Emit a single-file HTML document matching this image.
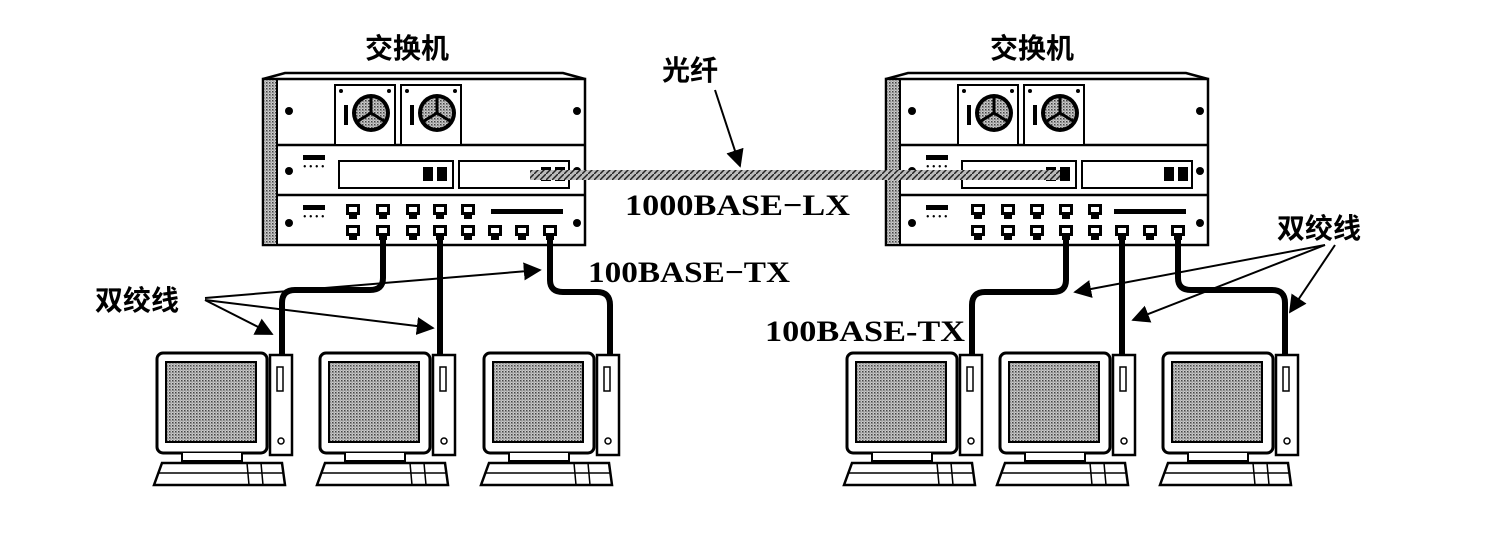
<!DOCTYPE html>
<html><head><meta charset="utf-8"><style>
html,body{margin:0;padding:0;background:#fff;}
svg{display:block}
text{font-family:"Liberation Serif","Noto Serif CJK SC",serif;fill:#000}
.cn{font-family:"Liberation Sans","Noto Sans CJK SC",sans-serif;font-weight:bold}
</style></head><body>
<svg width="1496" height="538" viewBox="0 0 1496 538" xmlns="http://www.w3.org/2000/svg">
<defs>
<pattern id="dots" width="3" height="3" patternUnits="userSpaceOnUse">
<rect width="3" height="3" fill="#ccc"/><rect x="0" y="0" width="1.5" height="1.5" fill="#444"/><rect x="1.5" y="1.5" width="1" height="1" fill="#666"/>
</pattern>
<pattern id="hatch" width="6" height="6" patternUnits="userSpaceOnUse">
<rect width="6" height="6" fill="#bbb"/><path d="M0 6L6 0" stroke="#222" stroke-width="1.5"/>
</pattern>
<marker id="ar" viewBox="0 0 10 10" refX="9" refY="5" markerWidth="9" markerHeight="9" orient="auto-start-reverse">
<path d="M0 0L10 5L0 10z" fill="#000"/></marker>
<g id="port"><rect x="-7" y="0" width="14" height="11" fill="#000"/><rect x="-4" y="3" width="8" height="5" fill="#fff"/><rect x="-4" y="11" width="8" height="4" fill="#000"/></g>
<g id="fan"><rect x="0" y="0" width="60" height="60" fill="#fff" stroke="#000" stroke-width="2"/>
<circle cx="36" cy="28" r="19" fill="#000"/><circle cx="36" cy="28" r="15" fill="url(#dots)"/><path d="M36 28L36 13M36 28L49 36M36 28L23 36" stroke="#000" stroke-width="3"/>
<rect x="9" y="20" width="4" height="20" fill="#000"/><circle cx="6" cy="6" r="2"/><circle cx="54" cy="6" r="2"/></g>
<g id="sw">
<path d="M0 6 L22 0 L300 0 L322 6" fill="none" stroke="#000" stroke-width="2.5"/>
<rect x="0" y="6" width="322" height="166" fill="#fff" stroke="#000" stroke-width="2.5"/>
<rect x="1" y="7" width="13" height="164" fill="url(#dots)"/>
<line x1="14" y1="6" x2="14" y2="172" stroke="#000" stroke-width="2"/>
<line x1="14" y1="72" x2="322" y2="72" stroke="#000" stroke-width="2.5"/>
<line x1="14" y1="122" x2="322" y2="122" stroke="#000" stroke-width="2.5"/>
<use href="#fan" x="72" y="12"/><use href="#fan" x="138" y="12"/>
<circle cx="26" cy="38" r="4"/><circle cx="314" cy="38" r="4"/>
<circle cx="26" cy="98" r="4"/><circle cx="314" cy="98" r="4"/>
<circle cx="26" cy="150" r="4"/><circle cx="314" cy="150" r="4"/>
<rect x="40" y="82" width="22" height="5" fill="#000"/><text x="40" y="97" font-size="10">• • • •</text>
<rect x="40" y="132" width="22" height="5" fill="#000"/><text x="40" y="147" font-size="10">• • • •</text>
<rect x="76" y="88" width="114" height="27" fill="#fff" stroke="#000" stroke-width="2"/>
<rect x="196" y="88" width="110" height="27" fill="#fff" stroke="#000" stroke-width="2"/>
<rect x="160" y="94" width="10" height="14" fill="#000"/><rect x="174" y="94" width="10" height="14" fill="#000"/>
<rect x="278" y="94" width="10" height="14" fill="#000"/><rect x="292" y="94" width="10" height="14" fill="#000"/>
<rect x="228" y="136" width="72" height="5" fill="#000"/>
</g>
<g id="pc">
<rect x="0" y="0" width="110" height="100" rx="6" fill="#fff" stroke="#000" stroke-width="3"/>
<rect x="9" y="9" width="90" height="80" fill="url(#dots)" stroke="#000" stroke-width="2"/>
<path d="M25 100 L25 108 L85 108 L85 100" fill="#fff" stroke="#000" stroke-width="2"/>
<path d="M-3 132 L5 110 L125 110 L128 132 Z" fill="#fff" stroke="#000" stroke-width="2.5"/>
<line x1="2" y1="120" x2="126" y2="120" stroke="#000" stroke-width="1.5"/>
<line x1="90" y1="110" x2="92" y2="132" stroke="#000" stroke-width="1.5"/>
<line x1="104" y1="110" x2="106" y2="132" stroke="#000" stroke-width="1.5"/>
<rect x="113" y="2" width="22" height="100" fill="#fff" stroke="#000" stroke-width="2.5"/>
<rect x="120" y="14" width="6" height="24" fill="#fff" stroke="#000" stroke-width="1.5"/>
<circle cx="124" cy="88" r="3" fill="none" stroke="#000" stroke-width="1.5"/>
</g>
</defs>

<use href="#sw" x="263" y="73"/>
<use href="#sw" x="886" y="73"/>
<rect x="530" y="170" width="530" height="10" fill="url(#hatch)"/>

<g>
<use href="#port" x="353" y="204"/><use href="#port" x="383" y="204"/><use href="#port" x="413" y="204"/><use href="#port" x="440" y="204"/><use href="#port" x="468" y="204"/>
<use href="#port" x="353" y="225"/><use href="#port" x="383" y="225"/><use href="#port" x="413" y="225"/><use href="#port" x="440" y="225"/><use href="#port" x="468" y="225"/><use href="#port" x="495" y="225"/><use href="#port" x="522" y="225"/><use href="#port" x="550" y="225"/>
<use href="#port" x="978" y="204"/><use href="#port" x="1008" y="204"/><use href="#port" x="1037" y="204"/><use href="#port" x="1066" y="204"/><use href="#port" x="1095" y="204"/>
<use href="#port" x="978" y="225"/><use href="#port" x="1008" y="225"/><use href="#port" x="1037" y="225"/><use href="#port" x="1066" y="225"/><use href="#port" x="1095" y="225"/><use href="#port" x="1122" y="225"/><use href="#port" x="1150" y="225"/><use href="#port" x="1178" y="225"/>
</g>

<g fill="none" stroke="#000" stroke-width="6">
<path d="M383 238 V278 Q383 290 370 290 H295 Q282 290 282 303 V355"/>
<path d="M440 238 V355"/>
<path d="M550 238 V280 Q550 292 563 292 H597 Q610 292 610 305 V355"/>
<path d="M1066 238 V280 Q1066 292 1053 292 H985 Q972 292 972 305 V355"/>
<path d="M1122 238 V355"/>
<path d="M1178 238 V278 Q1178 290 1191 290 H1272 Q1285 290 1285 303 V355"/>
</g>

<use href="#pc" x="157" y="353"/>
<use href="#pc" x="320" y="353"/>
<use href="#pc" x="484" y="353"/>
<use href="#pc" x="847" y="353"/>
<use href="#pc" x="1000" y="353"/>
<use href="#pc" x="1163" y="353"/>

<g stroke="#000" stroke-width="2" fill="none" marker-end="url(#ar)">
<line x1="715" y1="90" x2="740" y2="166"/>
<line x1="205" y1="300" x2="272" y2="334"/>
<line x1="205" y1="300" x2="433" y2="328"/>
<line x1="205" y1="298" x2="540" y2="270"/>
<line x1="1325" y1="245" x2="1075" y2="292"/>
<line x1="1325" y1="245" x2="1133" y2="320"/>
<line x1="1335" y1="245" x2="1290" y2="312"/>
</g>

<text x="365" y="58" class="cn" font-size="28">交换机</text>
<text x="990" y="58" class="cn" font-size="28">交换机</text>
<text x="662" y="80" class="cn" font-size="28">光纤</text>
<text x="625" y="215" font-size="30" font-weight="bold" textLength="225" lengthAdjust="spacingAndGlyphs">1000BASE−LX</text>
<text x="588" y="282" font-size="30" font-weight="bold" textLength="202" lengthAdjust="spacingAndGlyphs">100BASE−TX</text>
<text x="765" y="341" font-size="30" font-weight="bold" textLength="200" lengthAdjust="spacingAndGlyphs">100BASE-TX</text>
<text x="95" y="310" class="cn" font-size="28">双绞线</text>
<text x="1277" y="238" class="cn" font-size="28">双绞线</text>
</svg>
</body></html>
